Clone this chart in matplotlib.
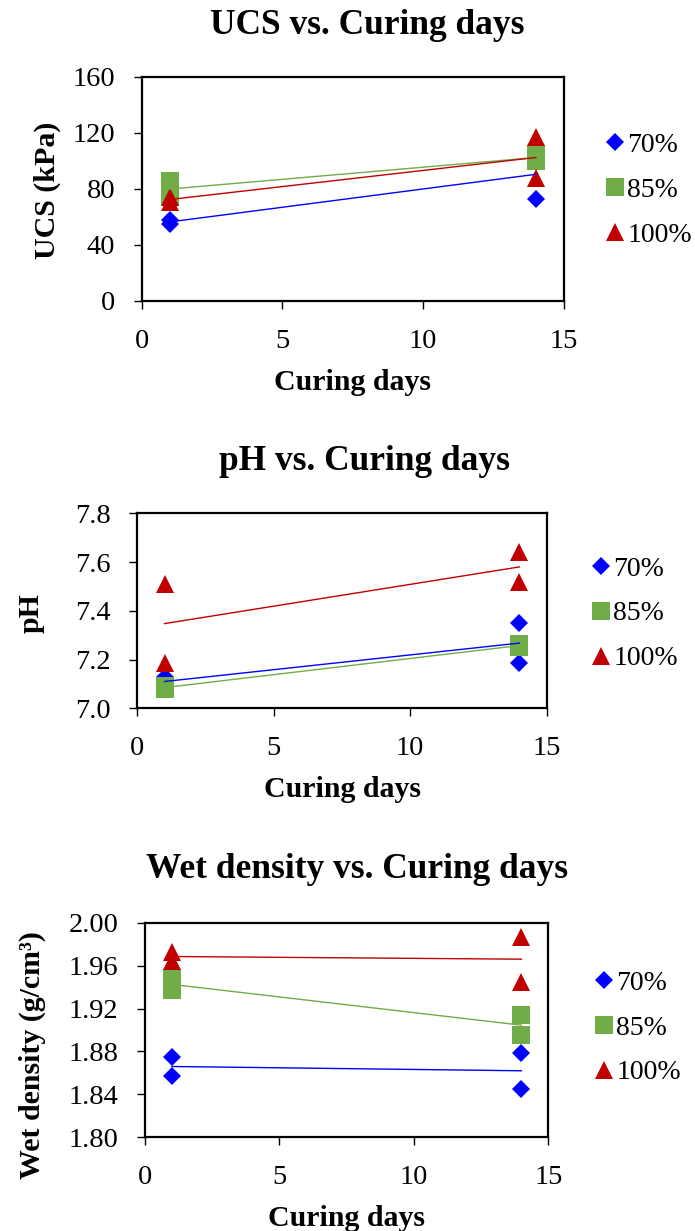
import numpy as np
import matplotlib.pyplot as plt

plt.rcParams['font.family'] = ['Liberation Serif', 'DejaVu Serif']

# Curing days (two replicates per mix)
days = [1, 1, 14, 14]
mixes = ['70%', '85%', '100%']

# UCS (kPa)
ucs_70 = [55, 58, 73, 108]
ucs_85 = [86, 74, 105, 100]
ucs_100 = [71, 74, 117, 88]

# pH
ph_70 = [7.13, 7.09, 7.35, 7.185]
ph_85 = [7.08, 7.09, 7.265, 7.25]
ph_100 = [7.51, 7.185, 7.64, 7.52]

# Wet density (g/cm3)
wd_70 = [1.875, 1.857, 1.879, 1.845]
wd_85 = [1.948, 1.937, 1.914, 1.895]
wd_100 = [1.973, 1.964, 1.987, 1.945]

colors = ['#0000FF', '#70AD47', '#C00000']
markers = ['D', 's', '^']
msizes = [8.7, 12.5, 12.5]

W, H = 695, 1231


def fig_rect(left, right, top, bottom):
    return [left / W, 1 - bottom / H, (right - left) / W, (bottom - top) / H]


def draw_panel(fig, rect, series, ylim, yticks, yfmt, title, title_xy, ylabel, ylabel_xy, leg_anchor):
    ax = fig.add_axes(fig_rect(*rect))
    for vals, c, m, ms, lab in zip(series, colors, markers, msizes, mixes):
        ax.plot(days, vals, linestyle='none', marker=m, markersize=ms,
                color=c, markeredgewidth=0, label=lab, zorder=3, clip_on=False)
    # linear trendlines
    for vals, c in zip(series, colors):
        k, b = np.polyfit(days, vals, 1)
        xs = np.array([min(days), max(days)])
        ax.plot(xs, k * xs + b, color=c, linewidth=1.0, zorder=4)
    ax.set_xlim(0, 15)
    ax.set_xticks([0, 5, 10, 15])
    ax.set_ylim(*ylim)
    ax.set_yticks(yticks)
    ax.set_yticklabels([yfmt.format(v) for v in yticks])
    for s in ax.spines.values():
        s.set_linewidth(1.6)
        s.set_color('black')
    ax.tick_params(direction='out', length=6, width=1, labelsize=20.5)
    ax.tick_params(axis='y', pad=13)
    ax.tick_params(axis='x', pad=14)
    ax.set_xlabel('Curing days', fontsize=21.5, fontweight='bold', labelpad=11)
    fig.text(title_xy[0] / W, 1 - title_xy[1] / H, title, fontsize=25.5,
             fontweight='bold', ha='center', va='center')
    fig.text(ylabel_xy[0] / W, 1 - ylabel_xy[1] / H, ylabel, fontsize=21.5,
             fontweight='bold', ha='center', va='center', rotation=90)
    ax.legend(loc='center left', bbox_to_anchor=leg_anchor, frameon=False,
              fontsize=20, handlelength=0.7, handletextpad=0.1,
              labelspacing=0.7, borderaxespad=0)
    return ax


fig = plt.figure(figsize=(W / 100, H / 100), dpi=100)

draw_panel(fig, (141.7, 564, 77, 301), [ucs_70, ucs_85, ucs_100],
           (0, 160), [0, 40, 80, 120, 160], '{:.0f}',
           'UCS vs. Curing days', (367, 25), 'UCS (kPa)', (47, 190), (1.071, 0.495))

draw_panel(fig, (137.3, 546.7, 513.3, 708.3), [ph_70, ph_85, ph_100],
           (7.0, 7.8), [7.0, 7.2, 7.4, 7.6, 7.8], '{:.1f}',
           'pH vs. Curing days', (365, 462), 'pH', (31, 613), (1.081, 0.485))

draw_panel(fig, (145, 548.3, 922.7, 1137.3), [wd_70, wd_85, wd_100],
           (1.80, 2.00), [1.80, 1.84, 1.88, 1.92, 1.96, 2.00], '{:.2f}',
           'Wet density vs. Curing days', (357, 870), 'Wet density (g/cm³)', (32, 1055), (1.086, 0.51))

fig.savefig('out.png', dpi=100)
